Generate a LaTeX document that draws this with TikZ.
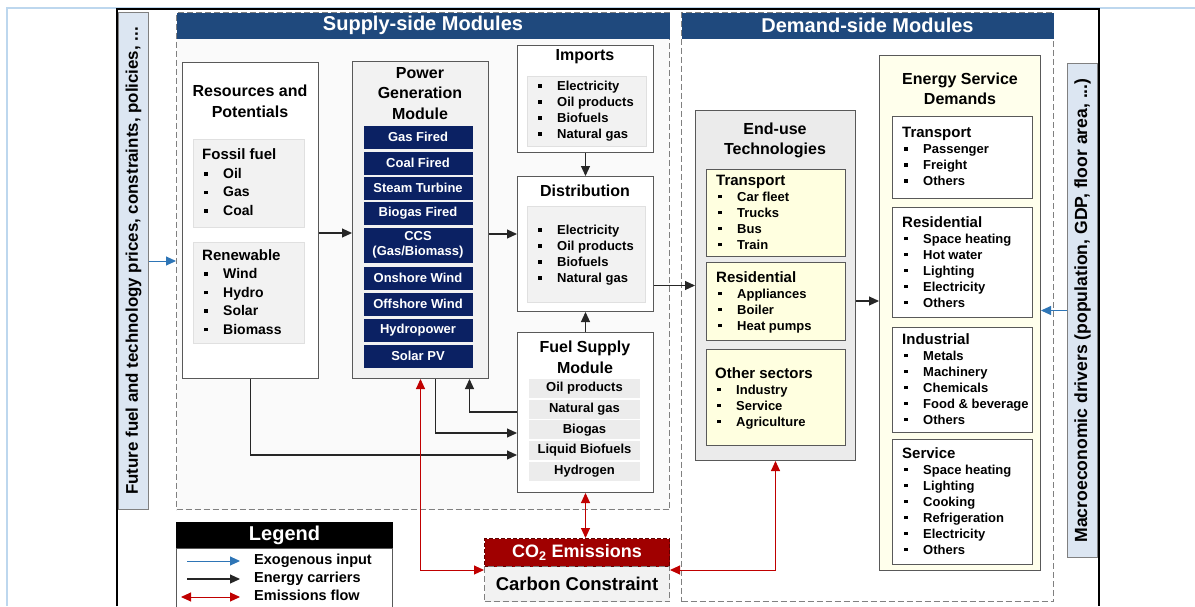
\documentclass[tikz,border=0pt]{standalone}
\usepackage{fontspec}
\setmainfont{Liberation Sans}
\usetikzlibrary{arrows.meta,positioning}

\definecolor{hdrblue}{HTML}{1F497D}
\definecolor{gennavy}{HTML}{0B2163}
\definecolor{emisred}{HTML}{C00000}
\definecolor{co2red}{HTML}{A00000}
\definecolor{driverblue}{HTML}{DCE6F2}
\definecolor{pageblue}{HTML}{BDD7EE}
\definecolor{exoblue}{HTML}{2E75B6}
\definecolor{boxgray}{HTML}{F2F2F2}
\definecolor{eutgray}{HTML}{EBEBEB}
\definecolor{fuelgray}{HTML}{ECECEC}
\definecolor{cream}{HTML}{FFFFE0}
\definecolor{palecream}{HTML}{FFFFEC}
\definecolor{edgegray}{HTML}{595959}

\newcommand{\bul}{\strut\hspace*{2pt}\makebox[19pt][l]{\raisebox{2.8pt}{\rule{3.6pt}{3.6pt}}}}
\newcommand{\hd}[1]{{\fontsize{15}{16}\selectfont #1}}

\begin{document}
\begin{tikzpicture}[x=1pt,y=-1pt,
    box/.style={draw=edgegray, line width=1pt, anchor=north west, inner sep=0pt},
    zone/.style={draw=gray, line width=1pt, dash pattern=on 6pt off 3pt, anchor=north west, inner sep=0pt},
    title/.style={font=\fontsize{16}{20.5}\selectfont\bfseries, align=center, inner sep=0pt},
    lst/.style={font=\fontsize{13}{16}\selectfont\bfseries, align=left, anchor=west, inner sep=0pt},
    biglst/.style={lst, font=\fontsize{14}{18.5}\selectfont\bfseries},
    header/.style={box, draw=none, fill=hdrblue, minimum height=26pt, text=white, font=\fontsize{20}{24}\selectfont\bfseries},
    genbox/.style={box, draw=none, fill=gennavy, text=white, minimum width=109pt, minimum height=23pt, font=\fontsize{13}{15}\selectfont\bfseries, align=center},
    fuelbox/.style={box, draw=white, fill=fuelgray, minimum width=112pt, minimum height=20pt, font=\fontsize{13}{15}\selectfont\bfseries},
    legtext/.style={anchor=west, inner sep=0pt, text height=10pt, text depth=3pt, font=\fontsize{14.5}{16}\selectfont\bfseries},
    carrier/.style={draw=black!85, line width=1.1pt, -{Triangle[length=10pt,width=9pt]}},
    exo/.style={draw=exoblue, line width=1pt, -{Triangle[length=10pt,width=9pt]}},
    emis/.style={draw=emisred, line width=1pt, {Triangle[length=10pt,width=9pt]}-{Triangle[length=10pt,width=9pt]}}]

    \useasboundingbox (0,0) rectangle (1195,606);

    % Page frame
    \draw[pageblue, line width=2.5pt] (7,606) -- (7,8) -- (1195,8);
    \draw[black, line width=2pt] (117,606) -- (117,9) -- (1099,9) -- (1099,606);

    % Module zones
    \node[zone, fill=black!2, minimum width=493pt, minimum height=497pt] (sup) at (176,12) {};
    \node[header, minimum width=493pt] (suphd) at (176,12) {Supply-side Modules};
    \node[zone, fill=white, minimum width=372pt, minimum height=589pt] (dem) at (681,12) {};
    \node[header, minimum width=372pt] (demhd) at (681,12) {Demand-side Modules};

    % Drivers
    \node[box, draw=gray, fill=driverblue, minimum width=30pt, minimum height=497pt] (fut) at (118,12) {};
    \node[rotate=90, inner sep=0pt, font=\fontsize{16.9}{18}\selectfont\bfseries] (futtxt) at (fut.center) {Future fuel and technology prices, constraints, policies, ...};
    \node[box, draw=gray, fill=driverblue, minimum width=30pt, minimum height=494pt] (mac) at (1067,63) {};
    \node[rotate=90, inner sep=0pt, font=\fontsize{17.6}{18}\selectfont\bfseries] (mactxt) at (mac.center) {Macroeconomic drivers (population, GDP, floor area, ...)};

    % Resources and potentials
    \node[box, fill=white, minimum width=136pt, minimum height=316pt] (res) at (182,62) {};
    \node[title] (restitle) at (250,101.5) {Resources and\\Potentials};
    \node[box, draw=black!12, fill=boxgray, minimum width=111pt, minimum height=88pt] (fossil) at (193,139) {};
    \node[biglst] (fossiltxt) at (202,185) {\hd{Fossil fuel}\\\bul Oil\\\bul Gas\\\bul Coal};
    \node[box, draw=black!12, fill=boxgray, minimum width=111pt, minimum height=101pt] (renew) at (193,242) {};
    \node[biglst] (renewtxt) at (202,294.5) {\hd{Renewable}\\\bul Wind\\\bul Hydro\\\bul Solar\\\bul Biomass};

    % Power generation
    \node[box, fill=boxgray, minimum width=136pt, minimum height=317pt] (pgm) at (352,61) {};
    \node[title] (pgmtitle) at (420,93.5) {Power\\Generation\\Module};
    \node[genbox] (gasf) at (363,125) {Gas Fired};
    \node[genbox] (coalf) at (363,151) {Coal Fired};
    \node[genbox] (steam) at (363,176) {Steam Turbine};
    \node[genbox] (biogf) at (363,201) {Biogas Fired};
    \node[genbox, minimum height=35pt] (ccs) at (363,227) {CCS\\(Gas/Biomass)};
    \node[genbox] (onsh) at (363,266) {Onshore Wind};
    \node[genbox] (offsh) at (363,292) {Offshore Wind};
    \node[genbox] (hydro) at (363,318) {Hydropower};
    \node[genbox] (solpv) at (363,344) {Solar PV};

    % Imports
    \node[box, fill=white, minimum width=136pt, minimum height=107pt] (imp) at (517,45) {};
    \node[title] (imptitle) at (585,57) {Imports};
    \node[box, draw=black!12, fill=boxgray, minimum width=119pt, minimum height=70pt] (impl) at (527,76) {};
    \node[lst] (imptxt) at (536,111.5) {\bul Electricity\\\bul Oil products\\\bul Biofuels\\\bul Natural gas};

    % Distribution
    \node[box, fill=white, minimum width=136pt, minimum height=135pt] (dist) at (517,176) {};
    \node[title] (disttitle) at (585,191) {Distribution};
    \node[box, draw=black!12, fill=boxgray, minimum width=118pt, minimum height=96pt] (distl) at (527,206) {};
    \node[lst] (disttxt) at (536,255.5) {\bul Electricity\\\bul Oil products\\\bul Biofuels\\\bul Natural gas};

    % Fuel supply
    \node[box, fill=white, minimum width=136pt, minimum height=160pt] (fsm) at (517,332) {};
    \node[title] (fsmtitle) at (585,357.5) {Fuel Supply\\Module};
    \node[fuelbox] (oilp) at (528,378) {Oil products};
    \node[fuelbox] (natg) at (528,398.7) {Natural gas};
    \node[fuelbox] (biog) at (528,419.4) {Biogas};
    \node[fuelbox] (liqb) at (528,440.1) {Liquid Biofuels};
    \node[fuelbox] (hydg) at (528,460.8) {Hydrogen};

    % End-use technologies
    \node[box, fill=eutgray, minimum width=160pt, minimum height=350pt] (eut) at (695,110) {};
    \node[title] (euttitle) at (775,140.5) {End-use\\Technologies};
    \node[box, fill=cream, minimum width=139pt, minimum height=87pt] (eutt) at (706,169) {};
    \node[lst] (euttx) at (716,214.5) {\hd{Transport}\\\bul Car fleet\\\bul Trucks\\\bul Bus\\\bul Train};
    \node[box, fill=cream, minimum width=139pt, minimum height=78pt] (eutr) at (706,262) {};
    \node[lst] (eutrx) at (716,303) {\hd{Residential}\\\bul Appliances\\\bul Boiler\\\bul Heat pumps};
    \node[box, fill=cream, minimum width=139pt, minimum height=96pt] (euto) at (706,349) {};
    \node[lst] (eutox) at (715,399) {\hd{Other sectors}\\\bul Industry\\\bul Service\\\bul Agriculture};

    % Energy service demands
    \node[box, fill=palecream, minimum width=161pt, minimum height=515pt] (esd) at (879,55) {};
    \node[title] (esdtitle) at (960,89) {Energy Service\\Demands};
    \node[box, fill=white, minimum width=140pt, minimum height=82pt] (esdt) at (892,116) {};
    \node[lst] (esdtx) at (902,159) {\hd{Transport}\\\bul Passenger\\\bul Freight\\\bul Others};
    \node[box, fill=white, minimum width=140pt, minimum height=110pt] (esdr) at (892,207) {};
    \node[lst] (esdrx) at (902,264) {\hd{Residential}\\\bul Space heating\\\bul Hot water\\\bul Lighting\\\bul Electricity\\\bul Others};
    \node[box, fill=white, minimum width=140pt, minimum height=105pt] (esdi) at (892,327) {};
    \node[lst] (esdix) at (902,381) {\hd{Industrial}\\\bul Metals\\\bul Machinery\\\bul Chemicals\\\bul Food \& beverage\\\bul Others};
    \node[box, fill=white, minimum width=140pt, minimum height=125pt] (esds) at (892,439) {};
    \node[lst] (esdsx) at (902,503) {\hd{Service}\\\bul Space heating\\\bul Lighting\\\bul Cooking\\\bul Refrigeration\\\bul Electricity\\\bul Others};

    % Emissions and constraint
    \node[box, draw=co2red!60!black, dash pattern=on 4pt off 2pt, fill=co2red, minimum width=185pt, minimum height=28pt, text=white, font=\fontsize{18}{20}\selectfont\bfseries] (co2) at (484,538) {CO\textsubscript{2} Emissions};
    \node[box, draw=gray, dash pattern=on 6pt off 3pt, fill=boxgray, minimum width=185pt, minimum height=35pt, font=\fontsize{18.5}{20}\selectfont\bfseries] (cc) at (484,566) {Carbon Constraint};

    % Legend
    \node[box, draw=black, fill=black, minimum width=216pt, minimum height=26pt, text=white, font=\fontsize{20}{24}\selectfont\bfseries] (leg) at (176,522) {Legend};
    \node[box, fill=white, minimum width=216pt, minimum height=62pt] (legbody) at (176,548) {};
    \node[legtext] (legexo) at (254,561) {Exogenous input};
    \node[legtext] (legcar) at (254,579) {Energy carriers};
    \node[legtext] (legemi) at (254,597) {Emissions flow};
    \draw[exo] ([xshift=-67pt]legexo.west) -- ([xshift=-14pt]legexo.west);
    \draw[carrier] ([xshift=-67pt]legcar.west) -- ([xshift=-14pt]legcar.west);
    \draw[emis] ([xshift=-73pt]legemi.west) -- ([xshift=-14pt]legemi.west);

    % Energy carriers
    \draw[carrier] (res.east |- 0,233) -- (pgm.west |- 0,233);
    \draw[carrier] (pgm.east |- 0,234) -- (dist.west |- 0,234);
    \draw[carrier] (imp.south) -- (dist.north);
    \draw[carrier] (fsm.north) -- (dist.south);
    \draw[carrier] (fsm.west |- 0,412) -| ([xshift=49pt]pgm.south);
    \draw[carrier] ([xshift=15pt]pgm.south) |- (fsm.west |- 0,433);
    \draw[carrier] (res.south) |- (fsm.west |- 0,455);
    \draw[carrier] (dist.east |- eut.west) -- (eut.west);
    \draw[carrier] (eut.east |- 0,301) -- (esd.west |- 0,301);

    % Exogenous inputs
    \draw[exo] (fut.east) -- (fut.east -| sup.west);
    \draw[exo] (mac.west) -- (mac.west -| esd.east);

    % Emissions
    \draw[emis] (pgm.south) |- ([yshift=-4pt]cc.north west);
    \draw[emis] (fsm.south) -- (fsm.south |- co2.north);
    \draw[emis] (eut.south) |- ([yshift=-4pt]cc.north east);

\end{tikzpicture}
\end{document}
